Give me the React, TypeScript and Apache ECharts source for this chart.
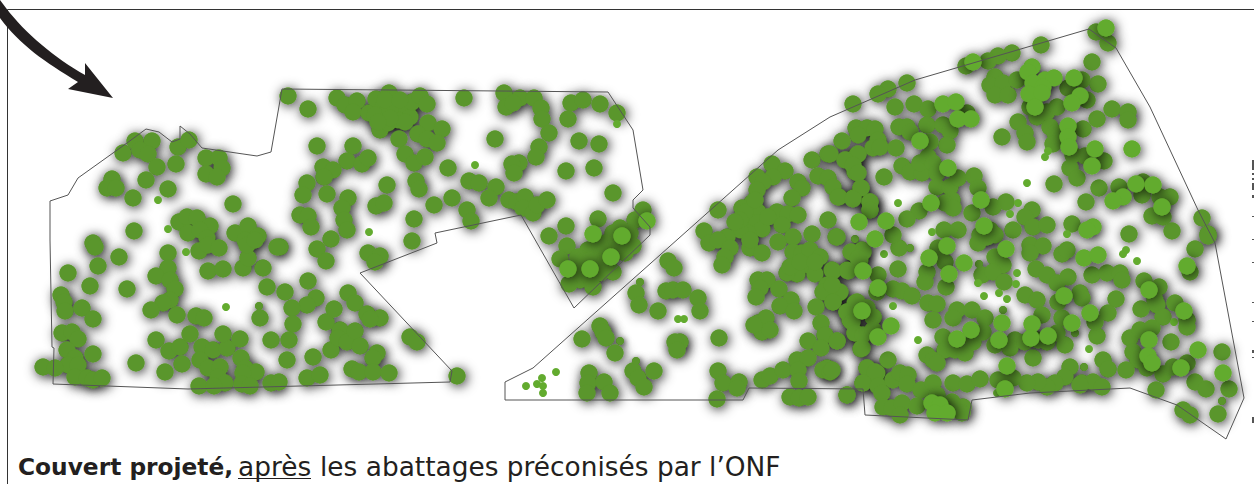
import React, { useEffect, useRef } from "react";
import * as echarts from "echarts";

const outlineWest: number[][] = [[50,201],[68,195],[78,178],[127,143],[146,129],[159,132],[172,142],[180,139],[180,126],[190,134],[202,148],[257,156],[271,152],[282,89],[608,92],[633,130],[643,190],[633,200],[633,208],[650,227],[650,235],[574,308],[521,215],[435,233],[437,243],[360,273],[452,371],[450,382],[188,389],[53,384],[54,348],[52,347],[50,240],[50,201]];
const outlineEast: number[][] = [[505,382],[505,400],[743,400],[749,388],[863,389],[865,415],[968,420],[972,400],[1030,393],[1130,388],[1177,405],[1226,439],[1244,398],[1215,243],[1198,210],[1150,107],[1116,48],[1089,29],[915,80],[830,117],[778,150],[533,368],[505,382]];

const canopyWestTop: number[][] = [[288,96],[308,109],[337,98],[345,105],[357,101],[353,112],[369,113],[376,99],[389,93],[383,107],[397,105],[395,115],[407,110],[410,117],[380,130],[388,123],[398,120],[405,122],[412,102],[420,96],[427,104],[428,123],[442,129],[418,134],[427,139],[437,143],[399,139],[405,154],[414,163],[425,157],[464,98],[495,139],[448,168],[504,93],[506,107],[520,98],[513,103],[534,98],[541,108],[542,119],[549,133],[539,147],[536,157],[519,163],[512,164],[514,173],[571,103],[583,100],[600,104],[617,113],[568,119],[579,141],[599,144],[566,171],[594,168],[613,193],[317,146],[353,146],[347,161],[362,164],[368,158],[323,167],[333,170],[324,177],[307,183],[303,195],[327,194],[387,185],[416,181],[419,189],[348,198],[342,208],[344,220],[347,230],[376,206],[384,203],[300,215],[308,216],[311,227],[331,239],[317,249],[326,261],[280,247],[368,253],[380,256],[375,262],[414,219],[412,241],[434,205],[452,198],[469,181],[479,183],[496,187],[489,198],[467,210],[471,221],[509,200],[517,202],[525,197],[523,208],[533,213],[537,205],[547,200],[375,115],[390,110],[385,100],[400,100],[390,118],[378,122]];
const canopyWestBlock: number[][] = [[598,219],[566,226],[549,236],[567,246],[560,259],[643,210],[635,220],[630,233],[633,246],[625,253],[613,233],[605,243],[588,250],[578,257],[600,257],[613,272],[600,273],[580,280],[569,284],[593,287],[590,260],[600,245],[620,245],[590,278],[605,262],[580,268],[620,228]];
const canopyWestUpperLeft: number[][] = [[123,153],[135,141],[152,141],[140,150],[148,154],[178,147],[189,140],[176,164],[157,167],[146,180],[168,189],[206,158],[219,158],[222,168],[206,174],[217,177],[112,179],[107,188],[116,188],[133,198],[233,204],[134,231],[179,222],[187,217],[197,218],[210,226],[188,233],[200,230],[207,238],[235,233],[248,226],[258,236],[245,240],[93,243]];
const canopyWestLower: number[][] = [[95,247],[119,257],[98,266],[68,273],[90,286],[127,289],[168,253],[168,268],[156,276],[170,280],[175,289],[170,300],[163,303],[151,310],[177,315],[199,251],[208,245],[219,248],[208,271],[223,269],[243,268],[263,268],[248,258],[247,245],[255,240],[277,247],[267,287],[285,292],[308,281],[316,298],[307,305],[292,308],[293,324],[260,318],[196,316],[204,318],[61,295],[64,302],[65,311],[82,308],[93,319],[62,333],[72,332],[78,339],[67,350],[75,358],[68,365],[78,365],[93,354],[43,367],[55,368],[75,377],[87,378],[93,380],[102,378],[136,363],[156,340],[169,351],[180,347],[190,334],[182,364],[165,372],[202,347],[213,350],[227,348],[223,334],[240,339],[200,360],[208,368],[220,367],[218,377],[225,383],[199,386],[214,386],[241,358],[245,368],[256,372],[243,373],[242,384],[250,386],[271,383],[279,382],[271,340],[289,340],[287,360],[313,357],[307,378],[320,375],[331,350],[340,330],[338,338],[347,342],[355,331],[360,346],[326,322],[334,309],[348,293],[355,303],[367,314],[380,318],[370,319],[377,353],[373,358],[352,369],[359,372],[373,372],[389,373],[410,337],[417,342],[457,376]];
const canopyEastWest: number[][] = [[772,164],[757,177],[785,171],[773,177],[763,182],[757,190],[798,182],[802,188],[718,210],[752,203],[742,208],[758,212],[747,222],[757,223],[762,229],[748,233],[740,230],[704,231],[709,243],[727,237],[718,240],[730,248],[725,257],[722,265],[750,248],[762,253],[792,198],[777,212],[788,214],[798,215],[782,225],[793,237],[812,234],[778,242],[828,220],[836,237],[793,252],[802,253],[810,250],[820,257],[808,265],[797,274],[815,274],[787,273],[790,267],[832,270],[847,270],[839,293],[827,285],[823,292],[833,302],[847,312],[855,303],[850,320],[873,317],[853,253],[862,250],[860,260],[812,160],[828,154],[847,160],[857,155],[855,172],[861,188],[853,198],[870,202],[870,210],[818,176],[828,178],[833,187],[839,197],[668,261],[674,268],[666,291],[673,290],[683,290],[636,293],[639,305],[658,311],[698,298],[700,311],[758,280],[767,280],[760,288],[756,297],[779,289],[791,300],[780,306],[794,311],[816,307],[758,323],[766,318],[762,332],[770,330],[754,325],[821,323],[825,335],[808,341],[837,341],[821,348],[855,333],[861,349],[600,326],[603,332],[606,338],[582,339],[615,353],[680,342],[675,342],[677,350],[719,338],[633,371],[638,378],[644,387],[654,371],[589,373],[588,383],[587,393],[604,382],[610,393],[718,371],[723,383],[739,382],[737,388],[717,399],[762,380],[770,376],[783,370],[797,360],[808,358],[798,370],[799,381],[827,368],[823,370],[830,372],[790,397],[799,398],[808,397],[847,395],[863,383],[867,368],[877,373],[875,380],[745,212],[755,200],[740,220],[768,217],[735,222],[750,240],[800,262],[815,262]];
const canopyEastNorth: number[][] = [[1096,32],[1108,43],[1041,45],[1012,53],[998,56],[988,61],[966,66],[907,83],[888,89],[878,94],[853,104],[1092,62],[1098,84],[995,77],[990,85],[1003,83],[995,95],[1008,95],[1017,80],[1030,107],[1037,117],[1047,112],[1057,107],[1068,88],[1082,80],[1087,100],[1018,122],[1025,133],[1027,142],[1002,137],[1050,127],[1055,133],[1053,144],[1083,129],[1097,119],[1112,109],[1128,112],[1128,120],[1073,155],[1085,156],[1104,161],[1070,168],[1077,178],[1054,184],[1099,188],[1119,187],[1086,202],[1142,195],[1143,182],[1170,197],[1160,197],[1152,216],[1163,217],[1202,218],[1208,234],[1172,231],[1129,234],[1072,224],[895,107],[914,104],[928,109],[967,113],[927,125],[943,125],[950,131],[947,145],[930,142],[899,127],[907,127],[910,132],[856,128],[867,128],[875,129],[858,135],[878,140],[873,148],[880,147],[896,148],[842,141],[830,154],[858,154],[845,160],[853,165],[858,173],[884,177],[861,188],[838,197],[853,199],[870,202],[870,210],[902,166],[910,172],[922,173],[920,163],[928,157],[933,163],[937,173],[937,187],[950,187],[958,178],[974,176],[978,188],[952,200],[945,203],[953,208],[919,211],[907,219],[972,213],[993,207],[1006,202],[1032,210],[1025,217],[1033,227],[1047,225],[1013,230],[944,230],[958,230],[990,230],[995,235],[980,235]];
const canopyEastSouth: number[][] = [[837,237],[851,252],[863,252],[858,258],[899,248],[893,235],[833,271],[848,271],[898,269],[878,275],[840,292],[832,285],[893,289],[902,291],[912,296],[877,292],[927,272],[925,282],[945,262],[938,248],[946,287],[928,303],[937,304],[933,320],[833,302],[847,312],[857,302],[867,308],[873,317],[852,322],[855,333],[863,335],[873,330],[862,348],[837,341],[943,337],[945,350],[955,350],[965,353],[973,342],[957,310],[953,318],[972,310],[985,318],[983,332],[888,360],[927,355],[933,360],[937,363],[867,368],[875,372],[863,383],[878,386],[882,393],[832,370],[893,380],[900,373],[908,375],[907,384],[921,390],[933,383],[937,395],[883,407],[892,408],[902,403],[900,415],[917,406],[953,383],[967,384],[980,379],[847,395],[963,407],[962,413],[952,402],[978,243],[987,237],[995,257],[1003,265],[982,275],[993,272],[1004,282],[1030,245],[1043,246],[1030,253],[1062,254],[1067,250],[1036,269],[1047,275],[1057,283],[1068,277],[1025,295],[1037,300],[1058,302],[1080,293],[1082,298],[1092,275],[1107,273],[1120,273],[1122,280],[1116,299],[1108,313],[1195,249],[1190,272],[1208,236],[1144,281],[1159,287],[1155,300],[1157,305],[1141,309],[1163,317],[1175,303],[1187,320],[1187,327],[1042,315],[1062,318],[1097,336],[1095,322],[1015,340],[1010,348],[995,345],[1025,342],[1033,358],[1047,342],[1065,345],[1057,333],[1038,340],[1171,342],[1222,352],[1130,338],[1140,330],[1152,328],[1133,352],[1138,360],[1147,368],[1103,360],[1108,369],[1126,370],[1070,367],[1065,377],[1055,383],[1047,387],[1038,382],[1027,383],[1082,383],[1093,382],[1102,387],[1080,385],[998,380],[1013,378],[1163,374],[1173,367],[1187,363],[1195,382],[1206,389],[1229,389],[1156,390],[1183,410],[1190,415],[1218,414]];
const canopyBright: number[][] = [[593,234],[622,236],[611,257],[568,269],[590,269],[647,221],[859,222],[875,239],[863,271],[862,311],[878,288],[878,337],[1106,28],[973,62],[1032,67],[1028,72],[1045,80],[1054,78],[1033,83],[1043,87],[1029,94],[1042,93],[1035,107],[1074,78],[1080,96],[1072,103],[1068,126],[1068,137],[1069,147],[1095,149],[1092,166],[1132,149],[1136,184],[1153,185],[1123,197],[1113,201],[1162,207],[1093,227],[1087,230],[943,104],[956,102],[958,119],[971,119],[920,141],[948,168],[931,203],[981,200],[984,226],[886,221],[947,246],[929,258],[964,263],[949,274],[1006,249],[1084,258],[1098,255],[1187,266],[1149,290],[1064,296],[1184,311],[1090,313],[1072,323],[1002,323],[971,330],[957,339],[999,340],[1032,324],[1031,338],[1048,336],[1149,340],[891,326],[1198,350],[1181,368],[1223,373],[1148,356],[1152,363],[1007,366],[1005,389],[932,403],[940,405],[935,413],[947,413]];
const saplingsBright: number[][] = [[158,200],[168,229],[186,252],[226,307],[369,232],[475,165],[617,124],[678,319],[684,319],[556,372],[526,386],[542,378],[537,384],[543,386],[543,393],[1048,151],[1045,157],[1027,183],[1067,234],[898,203],[1018,203],[1010,214],[932,232],[884,254],[893,306],[918,340],[978,283],[1017,273],[1016,284],[984,296],[999,293],[1007,299],[1123,254],[1126,250],[1137,261],[1174,322],[1089,349],[997,393]];
const saplingsDark: number[][] = [[259,306],[640,282],[620,341],[636,361],[855,239],[910,248],[979,264],[1003,310],[1075,333],[1084,367],[1222,401]];

const captionBold = "Couvert projeté,";
const captionUnderlined = "après";
const captionRest = "les abattages préconisés par l’ONF";
const clippedNoteMarks: number[][] = [[160,10],[173,2],[178,2],[183,7],[195,3],[216,1],[239,1],[262,1],[302,1],[321,1],[350,3],[357,1],[417,6]];

const arrowPath = "M0 0 L6 8 C25 33 55 58 85 75 L85 63 L113 98 L68 89 L78 82 C45 62 20 45 0 18 Z";
echarts.graphic.registerShape("sketchArrow", echarts.graphic.extendPath(arrowPath, {}));

const ink = "#231f20";
const darkGreen = "#5a962c";
const brightGreen = "#62ab2e";

const dots = (name: string, data: number[][], color: string, size: number, blur: number) => ({
  name,
  type: "scatter",
  data,
  symbol: "circle",
  symbolSize: size,
  silent: true,
  itemStyle: blur > 0
    ? { color, opacity: 1, shadowBlur: blur, shadowColor: "rgba(0,0,0,0.9)", shadowOffsetX: 1.5, shadowOffsetY: 1.5 }
    : { color, opacity: 1 },
});
const outline = (name: string, data: number[][]) => ({
  name,
  type: "line",
  data,
  symbol: "none",
  silent: true,
  lineStyle: { color: "#555", width: 1 },
});

const darkCanopy = [
  ...canopyWestTop, ...canopyWestBlock, ...canopyWestUpperLeft, ...canopyWestLower,
  ...canopyEastWest, ...canopyEastNorth, ...canopyEastSouth,
];

export default function App() {
  const ref = useRef<HTMLDivElement>(null);
  useEffect(() => {
    document.body.style.margin = "0";
    const chart = echarts.init(ref.current!, undefined, { renderer: "svg" });
    chart.setOption({
      animation: false,
      backgroundColor: "#fff",
      grid: { left: 0, right: 0, top: 0, bottom: 0 },
      xAxis: { type: "value", min: 0, max: 1254, show: false },
      yAxis: { type: "value", min: 0, max: 484, inverse: true, show: false },
      series: [
        outline("west", outlineWest),
        outline("east", outlineEast),
        dots("saplingsDarkShadow", saplingsDark, darkGreen, 8, 6),
        dots("canopyShadow", darkCanopy, darkGreen, 17, 12),
        dots("canopy", darkCanopy, darkGreen, 17, 0),
        dots("saplingsDark", saplingsDark, darkGreen, 8, 0),
        dots("saplings", saplingsBright, brightGreen, 8, 0),
        dots("brightShadow", canopyBright, brightGreen, 17, 12),
        dots("bright", canopyBright, brightGreen, 17, 0),
      ],
      graphic: [
        { type: "line", shape: { x1: 7.5, y1: 9.5, x2: 1254, y2: 9.5 }, style: { stroke: "#333", lineWidth: 1 } },
        { type: "line", shape: { x1: 7.5, y1: 9.5, x2: 7.5, y2: 484 }, style: { stroke: "#333", lineWidth: 1 } },
        { type: "sketchArrow", x: 0, y: 0, style: { fill: ink } },
        ...clippedNoteMarks.map(([y, h]) => ({ type: "rect", shape: { x: 1252, y, width: 2, height: h }, style: { fill: "#555" } })),
        { type: "text", x: 18, y: 466, style: { text: captionBold, fill: ink, font: "bold 23.3px 'DejaVu Sans', sans-serif", textVerticalAlign: "middle" } },
        { type: "text", x: 238, y: 466, style: { text: captionUnderlined, fill: ink, font: "26.4px 'DejaVu Sans', sans-serif", textVerticalAlign: "middle" } },
        { type: "line", shape: { x1: 238, y1: 478.5, x2: 311, y2: 478.5 }, style: { stroke: ink, lineWidth: 1 } },
        { type: "text", x: 320, y: 466, style: { text: captionRest, fill: ink, font: "26.4px 'DejaVu Sans', sans-serif", textVerticalAlign: "middle" } },
      ],
    });
    return () => chart.dispose();
  }, []);
  return <div ref={ref} style={{ width: 1254, height: 484 }} />;
}
